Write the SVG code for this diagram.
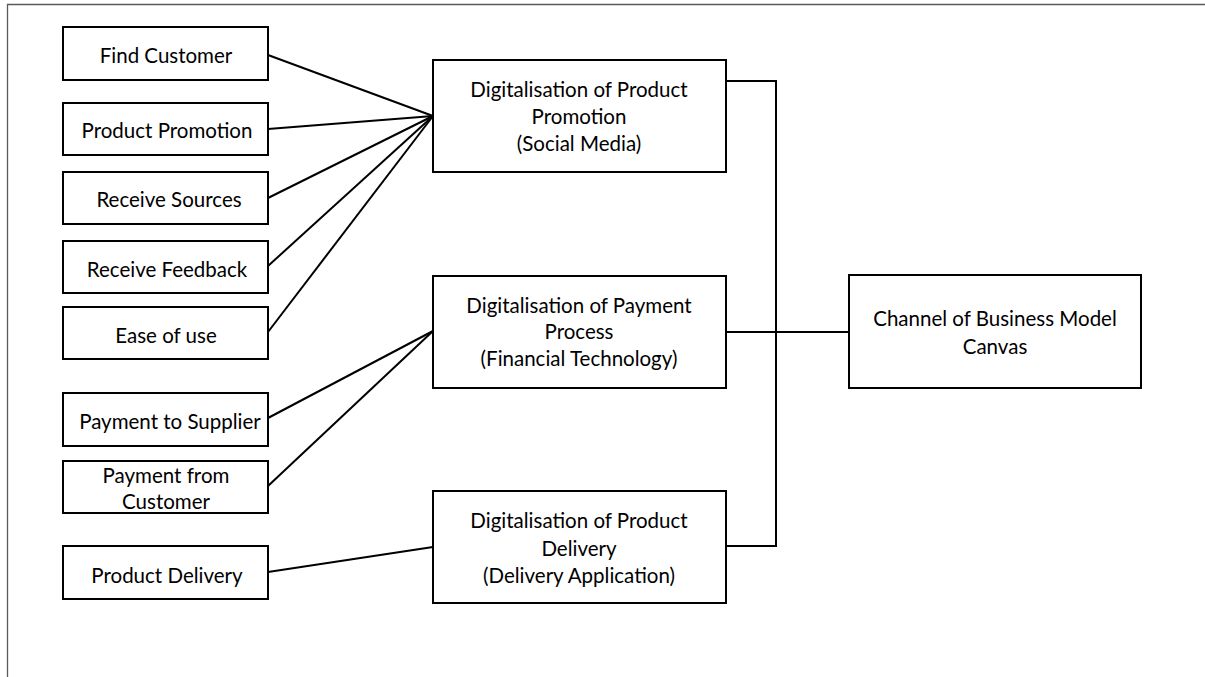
<svg xmlns="http://www.w3.org/2000/svg" width="1205" height="677" viewBox="0 0 1205 677">
<style>
.box{fill:#fff;stroke:#000;stroke-width:2}
.t{font-family:Lato,"Open Sans","Liberation Sans",sans-serif;font-size:20.5px;fill:#000;text-anchor:middle}
.c{fill:none;stroke:#000;stroke-width:2}
.frame{fill:none;stroke:#5a5a5a;stroke-width:1.3}
</style>
<rect width="1205" height="677" fill="#fff"/>
<path class="frame" d="M7.5 677 V4.5 H1205"/>
<g id="connectors">
<line class="c" x1="268" y1="55" x2="433" y2="116"/>
<line class="c" x1="268" y1="129" x2="433" y2="116"/>
<line class="c" x1="268" y1="198" x2="433" y2="116"/>
<line class="c" x1="268" y1="266" x2="433" y2="116"/>
<line class="c" x1="268" y1="332" x2="433" y2="116"/>
<line class="c" x1="268" y1="418" x2="433" y2="331"/>
<line class="c" x1="268" y1="486" x2="433" y2="331"/>
<line class="c" x1="268" y1="572" x2="433" y2="547"/>
<polyline class="c" points="726,81 776,81 776,546 726,546"/>
<line class="c" x1="726" y1="332" x2="849" y2="332"/>
</g>
<g id="find-customer"><rect class="box" x="63" y="27" width="205" height="53"/><text class="t" x="166" y="62.5">Find Customer</text></g>
<g id="product-promotion"><rect class="box" x="63" y="103" width="205" height="52"/><text class="t" x="167" y="137.5">Product Promotion</text></g>
<g id="receive-sources"><rect class="box" x="63" y="172" width="205" height="52"/><text class="t" x="169" y="206.5">Receive Sources</text></g>
<g id="receive-feedback"><rect class="box" x="63" y="241" width="205" height="52"/><text class="t" x="167" y="276.5">Receive Feedback</text></g>
<g id="ease-of-use"><rect class="box" x="63" y="307" width="205" height="52"/><text class="t" x="166" y="342.5">Ease of use</text></g>
<g id="payment-to-supplier"><rect class="box" x="63" y="393" width="205" height="53"/><text class="t" x="170" y="428.5">Payment to Supplier</text></g>
<g id="payment-from-customer"><rect class="box" x="63" y="461" width="205" height="52"/><text class="t" x="166" y="482.5">Payment from</text><text class="t" x="166" y="508.5">Customer</text></g>
<g id="product-delivery"><rect class="box" x="63" y="546" width="205" height="53"/><text class="t" x="167" y="582.5">Product Delivery</text></g>
<g id="digital-promotion"><rect class="box" x="433" y="60" width="293" height="112"/><text class="t" x="579" y="96.5">Digitalisation of Product</text><text class="t" x="579" y="123.5">Promotion</text><text class="t" x="579" y="150.5">(Social Media)</text></g>
<g id="digital-payment"><rect class="box" x="433" y="276" width="293" height="112"/><text class="t" x="579" y="312.5">Digitalisation of Payment</text><text class="t" x="579" y="338.5">Process</text><text class="t" x="579" y="365.5">(Financial Technology)</text></g>
<g id="digital-delivery"><rect class="box" x="433" y="491" width="293" height="112"/><text class="t" x="579" y="527.5">Digitalisation of Product</text><text class="t" x="579" y="555.5">Delivery</text><text class="t" x="579" y="582.5">(Delivery Application)</text></g>
<g id="channel-bmc"><rect class="box" x="849" y="275" width="292" height="113"/><text class="t" x="995" y="325.5">Channel of Business Model</text><text class="t" x="995" y="353.5">Canvas</text></g>
</svg>
